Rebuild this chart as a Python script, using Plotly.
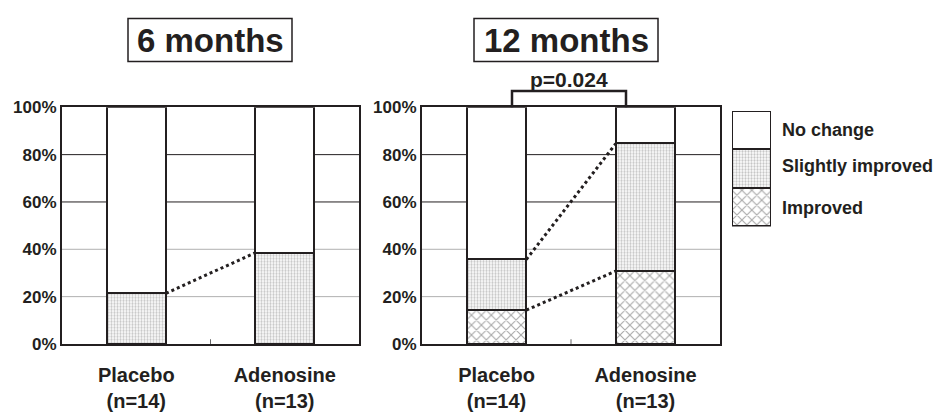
import plotly.graph_objects as go

# ---- data ----
groups = ["Placebo<br>(n=14)", "Adenosine<br>(n=13)"]
x_pos = [0, 1]
m6_improved = [0.0, 0.0]
m6_slightly = [21.4, 38.5]
m6_nochange = [78.6, 61.5]
m12_improved = [14.3, 30.8]
m12_slightly = [21.4, 53.8]
m12_nochange = [64.3, 15.4]
y_ticks = [0, 20, 40, 60, 80, 100]
y_ticklabels = ["0%", "20%", "40%", "60%", "80%", "100%"]
grid_dark = [60, 80]
grid_light = [20, 40]
legend_names = ["Improved", "Slightly improved", "No change"]
panel_titles = ["6 months", "12 months"]
p_text = "p=0.024"

INK = "#231f20"
FONT = "Liberation Sans, Arial, sans-serif"
BW = 0.4

styles = {
    "Improved": dict(color="white",
                     pattern=dict(shape="x", size=7, solidity=0.3, fgcolor="#555555", bgcolor="white")),
    "Slightly improved": dict(color="white",
                              pattern=dict(shape=".", size=3, solidity=0.45, fgcolor="#8a8a8a", bgcolor="white")),
    "No change": dict(color="white"),
}

fig = go.Figure()

def add_bars(vals_list, xa, ya):
    for name, vals in zip(legend_names, vals_list):
        fig.add_trace(go.Bar(
            x=x_pos, y=vals, width=BW, name=name, showlegend=False,
            marker=dict(**styles[name], line=dict(color=INK, width=2)),
            xaxis=xa, yaxis=ya, hoverinfo="skip"))

add_bars([m6_improved, m6_slightly, m6_nochange], "x", "y")
add_bars([m12_improved, m12_slightly, m12_nochange], "x2", "y2")

def connector(y_left, y_right, xa, ya):
    fig.add_trace(go.Scatter(
        x=[x_pos[0] + BW / 2, x_pos[1] - BW / 2], y=[y_left, y_right],
        mode="lines", line=dict(color=INK, width=3, dash="dot"),
        showlegend=False, xaxis=xa, yaxis=ya, hoverinfo="skip"))

connector(m6_slightly[0] + m6_improved[0], m6_slightly[1] + m6_improved[1], "x", "y")
connector(m12_improved[0] + m12_slightly[0], m12_improved[1] + m12_slightly[1], "x2", "y2")
connector(m12_improved[0], m12_improved[1], "x2", "y2")

for name in legend_names:
    fig.add_trace(go.Bar(
        x=[0], y=[1], width=1, name=name, showlegend=False,
        marker=dict(**styles[name], line=dict(color=INK, width=2)),
        xaxis="x3", yaxis="y3", hoverinfo="skip"))

W, H = 935, 416
def px(v): return v / W
def py(v): return 1 - v / H

ydom = [py(351), py(103)]
axis_common = dict(showline=True, linecolor=INK, linewidth=2, mirror=True,
                   zeroline=False, fixedrange=True)
xtick_font = dict(size=20, family=FONT, weight="bold", color=INK)
ytick_font = dict(size=17, family=FONT, weight="bold", color=INK)

fig.update_layout(
    width=W, height=H, margin=dict(l=0, r=0, t=0, b=0),
    paper_bgcolor="white", plot_bgcolor="white",
    barmode="stack", bargap=0,
    font=dict(family=FONT, color=INK),
    xaxis=dict(domain=[px(62), px(359)], range=[-0.5, 1.5], tickvals=x_pos, ticktext=groups,
               showgrid=False, ticks="", tickfont=xtick_font, ticklabelstandoff=12, **axis_common),
    xaxis2=dict(domain=[px(422), px(720)], range=[-0.5, 1.5], tickvals=x_pos, ticktext=groups,
                showgrid=False, ticks="", tickfont=xtick_font, ticklabelstandoff=12, anchor="y2", **axis_common),
    yaxis=dict(domain=ydom, range=[0, 100], tickvals=y_ticks, ticktext=y_ticklabels,
               showgrid=False, ticks="", tickfont=ytick_font, **axis_common),
    yaxis2=dict(domain=ydom, range=[0, 100], tickvals=y_ticks, ticktext=y_ticklabels,
                showgrid=False, ticks="", anchor="x2", tickfont=ytick_font, **axis_common),
    xaxis3=dict(domain=[px(732), px(771)], range=[-0.5, 0.5], visible=False, anchor="y3", fixedrange=True),
    yaxis3=dict(domain=[py(228), py(107)], range=[0, 3], visible=False, anchor="x3", fixedrange=True),
)

shapes = []
for ax, ya in [("x", "y"), ("x2", "y2")]:
    for gv in grid_light:
        shapes.append(dict(type="line", xref=ax + " domain", yref=ya, x0=0, x1=1, y0=gv, y1=gv,
                           line=dict(color="#b0b0b0", width=1), layer="below"))
    for gv in grid_dark:
        shapes.append(dict(type="line", xref=ax + " domain", yref=ya, x0=0, x1=1, y0=gv, y1=gv,
                           line=dict(color=INK, width=1), layer="below"))
    shapes.append(dict(type="line", xref=ax, yref=ya, x0=0.5, x1=0.5, y0=0, y1=2,
                       line=dict(color="#666666", width=1), layer="below"))
shapes.append(dict(type="rect", xref="paper", yref="paper", x0=px(128), x1=px(292), y0=py(55), y1=py(10),
                   line=dict(color=INK, width=1.5)))
shapes.append(dict(type="rect", xref="paper", yref="paper", x0=px(474), x1=px(658), y0=py(55), y1=py(10),
                   line=dict(color=INK, width=1.5)))
shapes.append(dict(type="path", xref="paper", yref="paper",
                   path=f"M {px(512)},{py(103)} L {px(512)},{py(86)} L {px(626)},{py(86)} L {px(626)},{py(103)}",
                   line=dict(color=INK, width=2.5)))
fig.update_layout(shapes=shapes)

def ann_c(text, xp, yp, size):
    return dict(text=text, x=px(xp), y=py(yp), xref="paper", yref="paper", showarrow=False,
                xanchor="center", yanchor="middle",
                font=dict(size=size, family=FONT, weight="bold", color=INK))

ann = [ann_c(panel_titles[0], 210, 33, 33), ann_c(panel_titles[1], 566, 33, 33), ann_c(p_text, 569, 74, 21)]
for name, yy in [("No change", 127), ("Slightly improved", 165), ("Improved", 208)]:
    ann.append(dict(text=name, x=px(780), y=py(yy), xref="paper", yref="paper", showarrow=False,
                    xanchor="left", yanchor="middle",
                    font=dict(size=18, family=FONT, weight="bold", color=INK)))
fig.update_layout(annotations=ann)

post = """
document.documentElement.style.margin='0px';
document.body.style.margin='0px';
document.body.style.overflow='hidden';
"""
fig.write_html("out.html", post_script=post, config={"displayModeBar": False})
